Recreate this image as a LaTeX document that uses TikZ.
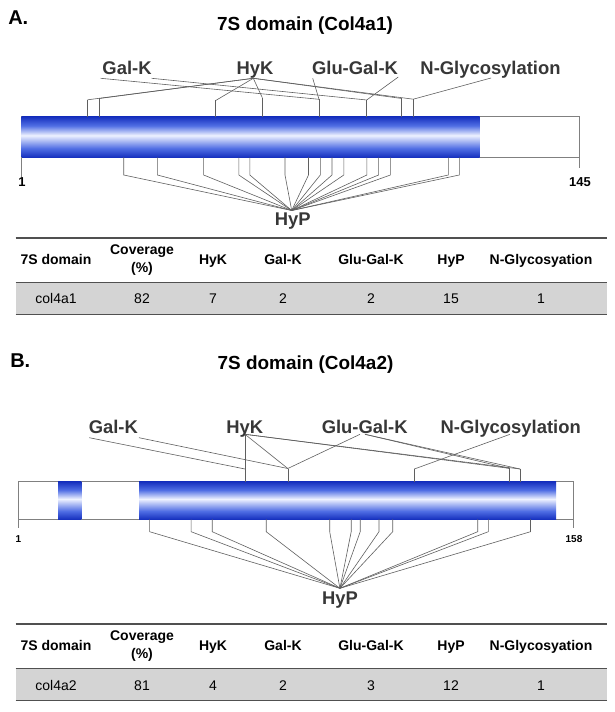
\documentclass[tikz,border=0pt]{standalone}
\usepackage{fontspec}
\setmainfont{Liberation Sans}
\usetikzlibrary{positioning}

\definecolor{bardark}{RGB}{22,48,190}
\definecolor{barmid}{RGB}{80,110,228}
\definecolor{barlight}{RGB}{238,242,255}
\definecolor{linegray}{RGB}{95,95,95}
\definecolor{labelgray}{RGB}{55,55,55}
\definecolor{rowgray}{RGB}{212,212,212}
\definecolor{rulegray}{RGB}{80,80,80}
\pgfdeclareverticalshading{barshade}{100bp}{color(0bp)=(bardark); color(25bp)=(bardark);
  color(36bp)=(barmid); color(52bp)=(barlight); color(64bp)=(barmid);
  color(75bp)=(bardark); color(100bp)=(bardark)}

\begin{document}
\begin{tikzpicture}[x=0.75pt,y=-0.75pt,
  panel/.style={font=\fontsize{15}{18}\selectfont\bfseries,anchor=base west,inner sep=0},
  title/.style={font=\fontsize{14.2}{17}\selectfont\bfseries,anchor=base,inner sep=0},
  modlbl/.style={font=\fontsize{13.8}{16}\selectfont\bfseries,text=labelgray,anchor=base,inner sep=0},
  numlbl/.style={font=\fontsize{9.7}{11}\selectfont\bfseries,anchor=base,inner sep=0},
  conn/.style={draw=linegray,line width=0.45pt},
  bar/.style={draw=gray,line width=0.6pt,fill=white},
  cell/.style={font=\fontsize{10.5}{12}\selectfont,text height=1.6ex,text depth=0.4ex,inner sep=0},
  head/.style={cell,font=\fontsize{10.5}{12}\selectfont\bfseries},
  rule/.style={draw=rulegray,line width=1.2pt},
  midrule/.style={draw=rulegray,line width=0.7pt},
]
  \useasboundingbox (0,0) rectangle (614,712);

  % ---------------- Panel A ----------------
  \node[panel] (pA) at (8,25) {A.};
  \node[title] (tA) at (305,31) {7S domain (Col4a1)};

  % modification labels
  \node[modlbl] (galkA) at (127,75) {Gal-K};
  \node[modlbl] (hykA) at (255,75) {HyK};
  \node[modlbl] (glugalkA) at (355,75) {Glu-Gal-K};
  \node[modlbl] (nglyA) at (490.5,75) {N-Glycosylation};
  \coordinate (galkAl) at (100.7,78.3);
  \coordinate (galkAr) at (151.7,78.3);
  \coordinate (hykAa) at (253.3,78.3);
  \coordinate (glugalkAl) at (312.7,78.3);
  \coordinate (glugalkAr) at (398.3,77);
  \coordinate (nglyAa) at (491,78);

  % protein bar
  \draw[bar] (21.7,116.7) rectangle (579.5,157.3);
  \shade[shading=barshade] (21.7,116.7) rectangle (479.6,157.3);
  \draw[bar] (21.7,157.3) -- (21.7,176.7);
  \draw[bar] (579.5,157.3) -- (579.5,168.3);
  \node[numlbl] (startA) at (22,187) {1};
  \node[numlbl] (endA) at (580,187) {145};

  % sites above the bar
  \foreach \n/\x/\y in {1/87.7/99.8,2/99.3/98.5,3/215.7/100.5,4/262.3/97.7,
                        5/319/99.3,6/366.7/100,7/401.7/98.5,8/413.3/99.2} {
    \coordinate (sA\n) at (\x,\y);
    \coordinate (sA\n b) at (\x,116.7);
    \draw[conn] (sA\n) -- (sA\n b);
  }
  \foreach \s in {1,2,3,4,7,8}
    \draw[conn] (hykAa) -- (sA\s);
  \draw[conn] (galkAl) -- (sA5);
  \draw[conn] (galkAr) -- (sA6);
  \draw[conn] (glugalkAl) -- (sA5);
  \draw[conn] (glugalkAr) -- (sA6);
  \draw[conn] (nglyAa) -- (sA8);

  % HyP sites below the bar
  \coordinate (hypAa) at (291.7,210.5);
  \node[modlbl] (hypA) at (292.7,225.5) {HyP};
  \foreach \x [count=\n] in {123.7,157.4,203.6,238.8,249.8,285.0,308.5,320.3,
                             332.0,343.8,366.9,378.6,390.4,448.3,459.3} {
    \coordinate (pA\n t) at (\x,157.3);
    \coordinate (pA\n b) at (\x,175);
    \draw[conn] (pA\n t) -- (pA\n b) -- (hypAa);
  }

  % table A
  \fill[rowgray] (15.7,282) rectangle (607,314.5);
  \draw[rule] (15.7,238.3) -- (607,238.3);
  \draw[midrule] (15.7,282) -- (607,282);
  \draw[rule] (15.7,314.5) -- (607,314.5);
  \foreach \x/\t [count=\i] in {56/7S domain,213/HyK,283/Gal-K,371/Glu-Gal-K,451/HyP,541/N-Glycosyation}
    \node[head] (hA\i) at (\x,260) {\t};
  \node[font=\fontsize{10.5}{13.5}\selectfont\bfseries,align=center,inner sep=0] (covA) at (142,260.5) {Coverage\\(\%)};
  \foreach \x/\t [count=\i] in {56/col4a1,142/82,213/7,283/2,371/2,451/15,541/1}
    \node[cell] (vA\i) at (\x,299) {\t};

  % ---------------- Panel B ----------------
  \node[panel] (pB) at (10,367) {B.};
  \node[title] (tB) at (305.5,369) {7S domain (Col4a2)};

  % modification labels
  \node[modlbl] (galkB) at (113.3,433.3) {Gal-K};
  \node[modlbl] (hykB) at (244.7,433.3) {HyK};
  \node[modlbl] (glugalkB) at (364.7,433.3) {Glu-Gal-K};
  \node[modlbl] (nglyB) at (510.7,433.3) {N-Glycosylation};
  \coordinate (galkBl) at (89.3,437.7);
  \coordinate (galkBr) at (139,437.7);
  \coordinate (hykBa) at (245,434.3);
  \coordinate (glugalkBl) at (360,434.3);
  \coordinate (glugalkBr) at (365,434.3);
  \coordinate (nglyBa) at (510,434.3);

  % protein bar
  \draw[bar] (18.4,481.7) rectangle (573.6,519.3);
  \shade[shading=barshade] (58,481.7) rectangle (81.4,519.3);
  \shade[shading=barshade] (139,481.7) rectangle (556,519.3);
  \draw[bar] (18.4,519.3) -- (18.4,528.3);
  \draw[bar] (573.6,519.3) -- (573.6,528.3);
  \node[numlbl,font=\fontsize{7.5}{9}\selectfont\bfseries] (startB) at (18.4,542.7) {1};
  \node[numlbl,font=\fontsize{7.5}{9}\selectfont\bfseries] (endB) at (574,542.7) {158};

  % sites above the bar
  \foreach \n/\x/\y in {1/245/469,2/287.8/468.5,3/414.3/469,4/509/468.3,5/520/469} {
    \coordinate (sB\n) at (\x,\y);
    \coordinate (sB\n b) at (\x,481.7);
    \draw[conn] (sB\n) -- (sB\n b);
  }
  \foreach \s in {1,2,4,5}
    \draw[conn] (hykBa) -- (sB\s);
  \draw[conn] (galkBl) -- (sB1);
  \draw[conn] (galkBr) -- (sB2);
  \draw[conn] (glugalkBl) -- (sB2);
  \draw[conn] (glugalkBr) -- (sB4);
  \draw[conn] (glugalkBr) -- (sB5);
  \draw[conn] (nglyBa) -- (sB3);

  % HyP sites below the bar
  \coordinate (hypBa) at (339.9,588.3);
  \node[modlbl] (hypB) at (340,604) {HyP};
  \foreach \x [count=\n] in {149.6,191.1,212.2,266.2,329.7,351.2,360.2,379.0,
                             392.7,477.7,488.3,530.5} {
    \coordinate (pB\n t) at (\x,519.3);
    \coordinate (pB\n b) at (\x,531.7);
    \draw[conn] (pB\n t) -- (pB\n b) -- (hypBa);
  }

  % table B
  \fill[rowgray] (15.7,668) rectangle (607,700.5);
  \draw[rule] (15.7,624) -- (607,624);
  \draw[midrule] (15.7,668) -- (607,668);
  \draw[rule] (15.7,700.5) -- (607,700.5);
  \foreach \x/\t [count=\i] in {56/7S domain,213/HyK,283/Gal-K,371/Glu-Gal-K,451/HyP,541/N-Glycosyation}
    \node[head] (hB\i) at (\x,646) {\t};
  \node[font=\fontsize{10.5}{13.5}\selectfont\bfseries,align=center,inner sep=0] (covB) at (142,646.5) {Coverage\\(\%)};
  \foreach \x/\t [count=\i] in {56/col4a2,142/81,213/4,283/2,371/3,451/12,541/1}
    \node[cell] (vB\i) at (\x,686) {\t};
\end{tikzpicture}
\end{document}
